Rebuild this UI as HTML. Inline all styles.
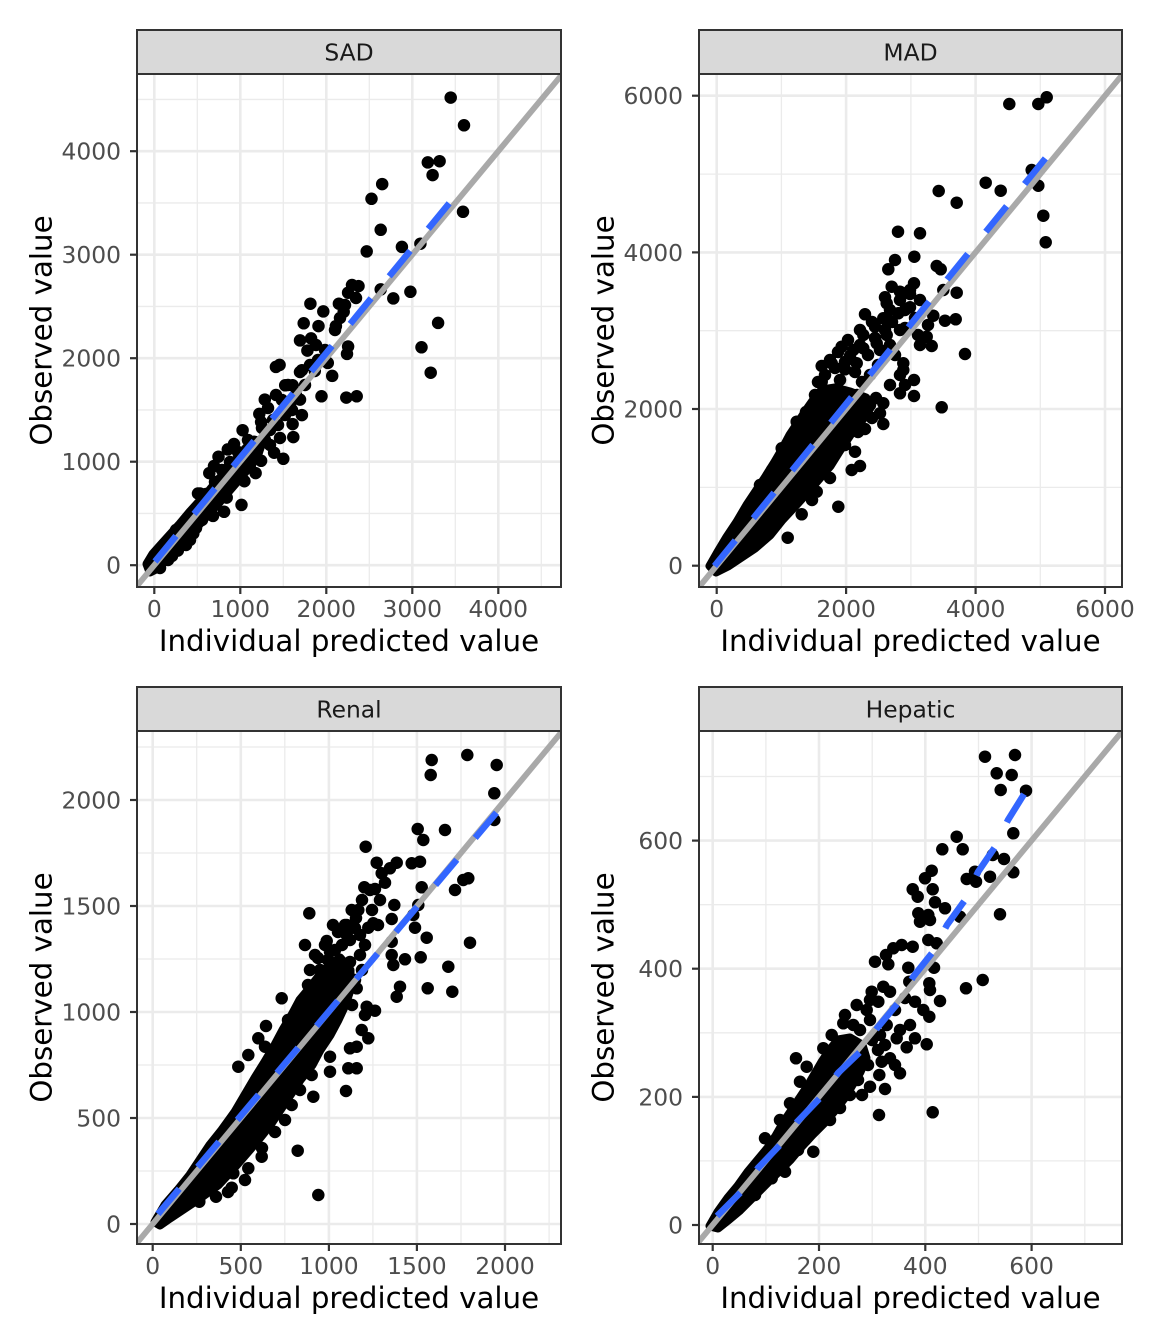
<!DOCTYPE html>
<html><head><meta charset="utf-8"><style>
html,body{margin:0;padding:0;background:#fff;}
svg{display:block;}
text{font-family:"DejaVu Sans","Liberation Sans",sans-serif;}
.tk{font-size:23.4px;fill:#4D4D4D;}
.ttl{font-size:29.3px;fill:#000;}
.st{font-size:23.4px;fill:#1A1A1A;}
.gmaj{stroke:#EBEBEB;stroke-width:2.6;}
.gmin{stroke:#EBEBEB;stroke-width:1.3;}
.pts{fill:none;stroke:#000;stroke-width:12.5;stroke-linecap:round;}
.core{fill:#000;stroke:#000;stroke-width:9;stroke-linejoin:round;}
.idl{stroke:#A9A9A9;stroke-width:5.8;fill:none;}
.blu{stroke:#3366FF;stroke-width:6.5;fill:none;stroke-dasharray:33 28.5;}
.tick{stroke:#333;stroke-width:2.2;}
</style></head><body>
<svg width="1152" height="1344" viewBox="0 0 1152 1344" xmlns="http://www.w3.org/2000/svg">
<defs>
<clipPath id="c1"><rect x="137" y="74" width="424" height="513"/></clipPath>
<clipPath id="c2"><rect x="699" y="74" width="423" height="513"/></clipPath>
<clipPath id="c3"><rect x="137" y="731" width="424" height="513"/></clipPath>
<clipPath id="c4"><rect x="699" y="731" width="423" height="513"/></clipPath>
</defs>
<rect width="1152" height="1344" fill="#fff"/>

<!-- ============ PANEL 1 SAD ============ -->
<g clip-path="url(#c1)">
<rect x="137" y="74" width="424" height="513" fill="#fff"/>
<g class="gmin">
<line x1="197.3" y1="74" x2="197.3" y2="587"/><line x1="283.3" y1="74" x2="283.3" y2="587"/><line x1="369.3" y1="74" x2="369.3" y2="587"/><line x1="455.3" y1="74" x2="455.3" y2="587"/><line x1="541.3" y1="74" x2="541.3" y2="587"/>
<line x1="137" y1="513.45" x2="561" y2="513.45"/><line x1="137" y1="409.95" x2="561" y2="409.95"/><line x1="137" y1="306.45" x2="561" y2="306.45"/><line x1="137" y1="202.95" x2="561" y2="202.95"/><line x1="137" y1="99.45" x2="561" y2="99.45"/>
</g>
<g class="gmaj">
<line x1="154.3" y1="74" x2="154.3" y2="587"/><line x1="240.3" y1="74" x2="240.3" y2="587"/><line x1="326.3" y1="74" x2="326.3" y2="587"/><line x1="412.3" y1="74" x2="412.3" y2="587"/><line x1="498.3" y1="74" x2="498.3" y2="587"/>
<line x1="137" y1="565.2" x2="561" y2="565.2"/><line x1="137" y1="461.7" x2="561" y2="461.7"/><line x1="137" y1="358.2" x2="561" y2="358.2"/><line x1="137" y1="254.7" x2="561" y2="254.7"/><line x1="137" y1="151.2" x2="561" y2="151.2"/>
</g>
<polygon class="core" points="147,564 153,554 161,545 170,535 180,524 190,512 200,501 210,490 220,478 230,467 240,455 248,446 254,440 262,442 258,454 250,466 240,478 228,492 216,506 204,519 192,532 180,545 168,558 158,568 150,572"/>
<path class="pts" d="M450.7 97.6h0M464 125.3h0M427.8 162.4h0M439.6 161.2h0M432.6 175.1h0M382.2 184.1h0M371.5 198.8h0M380.7 229.8h0M463 211.8h0M366.7 251.4h0M401.9 246.9h0M420.4 243.7h0M410.4 291.8h0M393.3 298.4h0M380.7 289.4h0M358.5 286.1h0M348.1 292.7h0M338.9 303.7h0M310.4 303.7h0M323.3 311.4h0M438.1 322.9h0M421.5 347.3h0M430.7 372.7h0M303.7 323.3h0M318.5 326.1h0M335.9 326.1h0M343.7 311.8h0M300 340.4h0M311.1 338.4h0M307.4 350.6h0M348.1 346.5h0M347 353.9h0M279.6 364.9h0M275.9 366.9h0M301.9 370.2h0M314.8 371h0M327.8 362.9h0M332.2 375.9h0M321.5 396.3h0M346.3 397.6h0M356.7 396.3h0M285.2 385.3h0M292.6 385.3h0M300 399.6h0M301.9 415.1h0M292.6 424.1h0M293.3 437.1h0M283.3 458.8h0M274.1 452.7h0M264.8 399.6h0M259.3 413.9h0M261.1 422h0M242.6 430.2h0M227.8 449.4h0M218.5 456.7h0M261.1 460.8h0M255.6 473.1h0M244.4 481.2h0M226.7 497.6h0M241.5 504.9h0M224.1 511.8h0M213 515.9h0M193.3 533.5h0M177.8 550.6h0M200 493.5h0M216.7 485.3h0M209.3 473.1h0M198 493.5h0M250 455h0M258 445h0M265 440h0M270 430h0M278 425h0M285 415h0M290 405h0M282 400h0M296 395h0M305 385h0M300 372h0M310 365h0M292 410h0M273 420h0M262 428h0M248 440h0M238 452h0M230 462h0M222 470h0M215 482h0M288 385h0M318 360h0M325 350h0M316 345h0M335 330h0M340 318h0M345 305h0M356 298h0M352 285h0M270 445h0M280 438h0M276 395h0M268 408h0M250 465h0M235 475h0M205 505h0M160 568h0M172 556h0M186 545h0M168 560h0M196 528h0M182 538h0M188 518h0M176 530h0M164 546h0M206 494h0M214 466h0M234 444h0M202 520h0M190 540h0M220 498h0"/>
<line class="idl" x1="128.5" y1="596.2" x2="584.3" y2="47.7"/>
<line class="blu" x1="155" y1="561.5" x2="463" y2="186.5"/>
</g>
<rect x="137" y="74" width="424" height="513" fill="none" stroke="#333" stroke-width="2"/>
<rect x="137" y="30" width="424" height="44" fill="#D9D9D9" stroke="#333" stroke-width="2"/>
<text class="st" x="349" y="60.5" text-anchor="middle">SAD</text>
<g class="tick">
<line x1="130" y1="565.2" x2="137" y2="565.2"/><line x1="130" y1="461.7" x2="137" y2="461.7"/><line x1="130" y1="358.2" x2="137" y2="358.2"/><line x1="130" y1="254.7" x2="137" y2="254.7"/><line x1="130" y1="151.2" x2="137" y2="151.2"/>
<line x1="154.3" y1="587" x2="154.3" y2="594"/><line x1="240.3" y1="587" x2="240.3" y2="594"/><line x1="326.3" y1="587" x2="326.3" y2="594"/><line x1="412.3" y1="587" x2="412.3" y2="594"/><line x1="498.3" y1="587" x2="498.3" y2="594"/>
</g>
<g class="tk" text-anchor="end">
<text x="121" y="573.7">0</text><text x="121" y="470.2">1000</text><text x="121" y="366.7">2000</text><text x="121" y="263.2">3000</text><text x="121" y="159.7">4000</text>
</g>
<g class="tk" text-anchor="middle">
<text x="154.3" y="617">0</text><text x="240.3" y="617">1000</text><text x="326.3" y="617">2000</text><text x="412.3" y="617">3000</text><text x="498.3" y="617">4000</text>
</g>
<text class="ttl" x="349" y="651" text-anchor="middle">Individual predicted value</text>
<text class="ttl" transform="translate(51.5,330.5) rotate(-90)" text-anchor="middle">Observed value</text>

<!-- ============ PANEL 2 MAD ============ -->
<g clip-path="url(#c2)">
<rect x="699" y="74" width="423" height="513" fill="#fff"/>
<g class="gmin">
<line x1="781.4" y1="74" x2="781.4" y2="587"/><line x1="910.9" y1="74" x2="910.9" y2="587"/><line x1="1040.3" y1="74" x2="1040.3" y2="587"/>
<line x1="699" y1="487.4" x2="1122" y2="487.4"/><line x1="699" y1="330.7" x2="1122" y2="330.7"/><line x1="699" y1="174.1" x2="1122" y2="174.1"/>
</g>
<g class="gmaj">
<line x1="716.7" y1="74" x2="716.7" y2="587"/><line x1="846.1" y1="74" x2="846.1" y2="587"/><line x1="975.6" y1="74" x2="975.6" y2="587"/><line x1="1105" y1="74" x2="1105" y2="587"/>
<line x1="699" y1="565.7" x2="1122" y2="565.7"/><line x1="699" y1="409" x2="1122" y2="409"/><line x1="699" y1="252.4" x2="1122" y2="252.4"/><line x1="699" y1="95.7" x2="1122" y2="95.7"/>
</g>
<polygon class="core" points="710,566 718,552 727,537 737,522 747,505 757,490 765,478 775,462 782,450 790,435 800,420 808,408 815,398 822,390 835,388 850,392 866,398 870,408 862,420 850,435 840,450 830,466 818,480 805,495 795,506 782,520 770,535 755,548 740,558 728,566 716,572"/>
<path class="pts" d="M1009.3 104h0M1038.3 104h0M1046.7 97.3h0M1031.7 170h0M1038.3 185.7h0M1043.3 215.7h0M1045.7 242.3h0M985.7 182.7h0M1000.7 190.7h0M938.7 191h0M956.7 202.7h0M898 231.7h0M920 233.3h0M914.3 256.7h0M895 260h0M888.3 269.3h0M936.7 266h0M940.7 269.3h0M914 283.3h0M891.7 286.7h0M900 291.7h0M910 294h0M885 297.3h0M886.7 303.3h0M943.3 290h0M956.7 292.7h0M910 307.3h0M898.3 313.3h0M865 314.3h0M883.3 318.3h0M933.3 315.7h0M945 320.7h0M955.7 319.3h0M875 326.7h0M900 330h0M886.7 335h0M863.3 335h0M926.7 336.7h0M920 345h0M931.7 346h0M965 354h0M841.7 346.7h0M853.3 350h0M863.3 348.3h0M876.7 343.3h0M821.7 366h0M831.7 363.3h0M845 369.3h0M856.7 363.3h0M903.3 363.3h0M903.3 370h0M914 380h0M914 396h0M900 393.3h0M941.7 407.3h0M821.7 381.7h0M815 395h0M883.3 403.3h0M880 413.3h0M863.3 413.3h0M883.3 424h0M865 429h0M796.7 421.7h0M781.7 448.3h0M855 451.7h0M860 466h0M851.7 470h0M816.7 491.7h0M838.3 506.7h0M801.7 514.3h0M787.7 537.7h0M825 375h0M835 368h0M845 362h0M840 380h0M855 372h0M862 382h0M870 375h0M878 365h0M868 355h0M880 350h0M890 345h0M895 355h0M885 330h0M875 338h0M860 345h0M850 356h0M892 322h0M905 310h0M915 318h0M905 328h0M918 335h0M928 325h0M900 300h0M910 290h0M920 300h0M890 310h0M872 322h0M860 330h0M848 340h0M838 352h0M830 360h0M818 382h0M870 405h0M890 385h0M900 375h0M905 385h0M857 395h0M845 398h0M806 412h0M798 430h0M790 445h0M845 445h0M830 478h0M812 500h0M772 470h0M760 485h0M876 398h0M872 418h0M858 432h0"/>
<line class="idl" x1="684.3" y1="604.9" x2="1169.7" y2="17.4"/>
<line class="blu" x1="714.5" y1="566" x2="1046.5" y2="157"/>
</g>
<rect x="699" y="74" width="423" height="513" fill="none" stroke="#333" stroke-width="2"/>
<rect x="699" y="30" width="423" height="44" fill="#D9D9D9" stroke="#333" stroke-width="2"/>
<text class="st" x="910.5" y="60.5" text-anchor="middle">MAD</text>
<g class="tick">
<line x1="692" y1="565.7" x2="699" y2="565.7"/><line x1="692" y1="409" x2="699" y2="409"/><line x1="692" y1="252.4" x2="699" y2="252.4"/><line x1="692" y1="95.7" x2="699" y2="95.7"/>
<line x1="716.7" y1="587" x2="716.7" y2="594"/><line x1="846.1" y1="587" x2="846.1" y2="594"/><line x1="975.6" y1="587" x2="975.6" y2="594"/><line x1="1105" y1="587" x2="1105" y2="594"/>
</g>
<g class="tk" text-anchor="end">
<text x="683" y="574.2">0</text><text x="683" y="417.5">2000</text><text x="683" y="260.9">4000</text><text x="683" y="104.2">6000</text>
</g>
<g class="tk" text-anchor="middle">
<text x="716.7" y="617">0</text><text x="846.1" y="617">2000</text><text x="975.6" y="617">4000</text><text x="1105" y="617">6000</text>
</g>
<text class="ttl" x="910.5" y="651" text-anchor="middle">Individual predicted value</text>
<text class="ttl" transform="translate(613.5,330.5) rotate(-90)" text-anchor="middle">Observed value</text>

<!-- ============ PANEL 3 Renal ============ -->
<g clip-path="url(#c3)">
<rect x="137" y="731" width="424" height="513" fill="#fff"/>
<g class="gmin">
<line x1="196.7" y1="731" x2="196.7" y2="1244"/><line x1="284.8" y1="731" x2="284.8" y2="1244"/><line x1="372.9" y1="731" x2="372.9" y2="1244"/><line x1="461" y1="731" x2="461" y2="1244"/><line x1="549.1" y1="731" x2="549.1" y2="1244"/>
<line x1="137" y1="1171" x2="561" y2="1171"/><line x1="137" y1="1065" x2="561" y2="1065"/><line x1="137" y1="959" x2="561" y2="959"/><line x1="137" y1="853" x2="561" y2="853"/><line x1="137" y1="747" x2="561" y2="747"/>
</g>
<g class="gmaj">
<line x1="152.7" y1="731" x2="152.7" y2="1244"/><line x1="240.8" y1="731" x2="240.8" y2="1244"/><line x1="328.9" y1="731" x2="328.9" y2="1244"/><line x1="416.9" y1="731" x2="416.9" y2="1244"/><line x1="505" y1="731" x2="505" y2="1244"/>
<line x1="137" y1="1224" x2="561" y2="1224"/><line x1="137" y1="1118" x2="561" y2="1118"/><line x1="137" y1="1012" x2="561" y2="1012"/><line x1="137" y1="906" x2="561" y2="906"/><line x1="137" y1="800" x2="561" y2="800"/>
</g>
<polygon class="core" points="155,1222 165,1205 178,1190 190,1175 200,1160 210,1145 222,1130 235,1112 245,1095 255,1078 265,1062 275,1045 283,1030 292,1015 300,1000 310,988 320,975 330,965 340,958 350,970 350,990 345,1005 338,1020 330,1035 320,1050 312,1065 300,1080 290,1095 280,1110 270,1125 258,1140 245,1155 232,1170 218,1185 200,1198 185,1208 170,1218 160,1225"/>
<path class="pts" d="M431.7 760h0M467.3 755h0M496.7 765h0M430.7 775h0M494.3 793.3h0M494.3 820h0M417.7 829h0M445 830h0M423.3 840h0M365.7 846.7h0M376.7 862.7h0M396.7 862.7h0M390 868.3h0M411.7 863.3h0M420 861.7h0M381.7 873.3h0M385 882.7h0M364.3 887.3h0M375 889h0M421.7 887.3h0M463.3 880h0M468.3 878.3h0M455 890h0M394.3 905h0M418.3 905h0M309.3 913.3h0M351.7 910h0M358.3 910h0M413.3 915h0M391.7 919h0M373.3 923.3h0M346.7 925h0M415 927.7h0M368.3 927.7h0M346.7 935h0M426.7 937.7h0M470 942.7h0M326.7 941h0M305 945h0M391.7 941.7h0M391.7 955h0M405 959.3h0M420.7 957.3h0M393.3 965h0M448.3 966.7h0M315 955h0M330 951.7h0M310 970h0M400 986.7h0M427.7 988.3h0M452.3 991.7h0M396.7 996.7h0M356.7 988.3h0M281.7 998.3h0M366.7 1006.7h0M375 1010.7h0M365 1015h0M266 1026h0M361.7 1030h0M368.3 1038.3h0M258.3 1038.3h0M265 1046.7h0M350 1048.3h0M356.7 1046.7h0M248.3 1055h0M330 1056.7h0M238.3 1066.7h0M348.3 1068.3h0M356.7 1068.3h0M330 1071.7h0M311.7 1075h0M346 1091h0M313.3 1096.7h0M291.7 1105h0M297.7 1150.7h0M261.7 1156.7h0M248.3 1168.3h0M233.3 1173.3h0M231.7 1187.7h0M216 1196.7h0M199.3 1201.7h0M318.3 1195h0M161.7 1220h0M320 970h0M328 960h0M335 950h0M342 945h0M338 932h0M350 940h0M345 925h0M355 928h0M360 935h0M330 980h0M340 975h0M350 962h0M360 955h0M365 945h0M356 918h0M362 900h0M372 910h0M378 925h0M380 900h0M370 890h0M322 990h0M312 1000h0M308 985h0M318 958h0M325 945h0M333 925h0M355 980h0M362 970h0M340 995h0M352 1005h0M298 1010h0M288 1020h0M300 1090h0M285 1120h0M275 1132h0M262 1148h0M245 1180h0M228 1192h0"/>
<line class="idl" x1="126.3" y1="1255.8" x2="593.1" y2="694"/>
<line class="blu" x1="158" y1="1214" x2="497" y2="812"/>
</g>
<rect x="137" y="731" width="424" height="513" fill="none" stroke="#333" stroke-width="2"/>
<rect x="137" y="687" width="424" height="44" fill="#D9D9D9" stroke="#333" stroke-width="2"/>
<text class="st" x="349" y="717.5" text-anchor="middle">Renal</text>
<g class="tick">
<line x1="130" y1="1224" x2="137" y2="1224"/><line x1="130" y1="1118" x2="137" y2="1118"/><line x1="130" y1="1012" x2="137" y2="1012"/><line x1="130" y1="906" x2="137" y2="906"/><line x1="130" y1="800" x2="137" y2="800"/>
<line x1="152.7" y1="1244" x2="152.7" y2="1251"/><line x1="240.8" y1="1244" x2="240.8" y2="1251"/><line x1="328.9" y1="1244" x2="328.9" y2="1251"/><line x1="416.9" y1="1244" x2="416.9" y2="1251"/><line x1="505" y1="1244" x2="505" y2="1251"/>
</g>
<g class="tk" text-anchor="end">
<text x="121" y="1232.5">0</text><text x="121" y="1126.5">500</text><text x="121" y="1020.5">1000</text><text x="121" y="914.5">1500</text><text x="121" y="808.5">2000</text>
</g>
<g class="tk" text-anchor="middle">
<text x="152.7" y="1274">0</text><text x="240.8" y="1274">500</text><text x="328.9" y="1274">1000</text><text x="416.9" y="1274">1500</text><text x="505" y="1274">2000</text>
</g>
<text class="ttl" x="349" y="1308" text-anchor="middle">Individual predicted value</text>
<text class="ttl" transform="translate(51.5,987.5) rotate(-90)" text-anchor="middle">Observed value</text>

<!-- ============ PANEL 4 Hepatic ============ -->
<g clip-path="url(#c4)">
<rect x="699" y="731" width="423" height="513" fill="#fff"/>
<g class="gmin">
<line x1="765.9" y1="731" x2="765.9" y2="1244"/><line x1="872.2" y1="731" x2="872.2" y2="1244"/><line x1="978.5" y1="731" x2="978.5" y2="1244"/><line x1="1084.8" y1="731" x2="1084.8" y2="1244"/>
<line x1="699" y1="1160.9" x2="1122" y2="1160.9"/><line x1="699" y1="1032.8" x2="1122" y2="1032.8"/><line x1="699" y1="904.7" x2="1122" y2="904.7"/><line x1="699" y1="776.5" x2="1122" y2="776.5"/>
</g>
<g class="gmaj">
<line x1="712.7" y1="731" x2="712.7" y2="1244"/><line x1="819" y1="731" x2="819" y2="1244"/><line x1="925.3" y1="731" x2="925.3" y2="1244"/><line x1="1031.6" y1="731" x2="1031.6" y2="1244"/>
<line x1="699" y1="1225" x2="1122" y2="1225"/><line x1="699" y1="1096.9" x2="1122" y2="1096.9"/><line x1="699" y1="968.7" x2="1122" y2="968.7"/><line x1="699" y1="840.6" x2="1122" y2="840.6"/>
</g>
<polygon class="core" points="710,1226 718,1212 728,1198 738,1186 748,1172 758,1160 768,1148 776,1136 784,1122 792,1110 800,1098 808,1086 815,1074 822,1062 830,1050 838,1040 850,1038 862,1045 866,1058 860,1072 852,1085 845,1097 835,1110 825,1122 812,1135 800,1148 790,1160 778,1172 765,1185 752,1198 740,1210 728,1220 718,1228"/>
<path class="pts" d="M985 756.7h0M1015 755h0M996.7 773.3h0M1011.7 775h0M1000.7 790h0M1026 790.7h0M1013.3 833.3h0M956.7 836.7h0M942.3 849.3h0M962.7 849.3h0M992.7 855h0M1004 859h0M1013.3 872.3h0M990 876.7h0M975 871.7h0M966.7 879h0M976 881.7h0M931.7 870.7h0M925 878.3h0M912.7 889.3h0M932.7 889.3h0M917.7 896.7h0M935 902.3h0M945 908.3h0M1000 914.3h0M918.3 913.3h0M928.3 915h0M920 921.7h0M930 920h0M960 916.7h0M928.3 940h0M936.7 943.3h0M901.7 945h0M912.7 946.7h0M893.3 948.3h0M886 955h0M875 961.7h0M888.3 964.3h0M908.3 967.7h0M934 967.7h0M982.7 980h0M966 988.3h0M940 1001h0M929.3 983.3h0M930 990h0M909.3 981.7h0M883.3 986.7h0M890 991.7h0M871.7 991.7h0M878.3 1001.7h0M856.7 1005h0M866.7 1010h0M915 1001.7h0M923.3 1010h0M929.3 1016.7h0M910 1025h0M900 1030h0M886.7 1025h0M896.7 1038.3h0M915 1038.3h0M926.7 1044.3h0M906.7 1047.3h0M885 1045h0M843.3 1023.3h0M853.3 1025h0M831.7 1035h0M823.3 1048.3h0M836.7 1050h0M890 1058.3h0M881.7 1061.7h0M895 1065h0M900 1073.3h0M879.3 1075h0M885 1089h0M870 1086.7h0M796 1058.3h0M806.7 1066.7h0M823.3 1068.3h0M800 1081.7h0M790 1103.3h0M879 1115h0M932.7 1112.3h0M813.3 1151.7h0M765 1138.3h0M785 1171.7h0M771.7 1178.3h0M755 1195h0M870 1020h0M860 1030h0M872 1040h0M878 1050h0M868 1065h0M858 1080h0M850 1095h0M840 1108h0M830 1120h0M845 1015h0M880 1035h0M895 1010h0M905 998h0M870 1000h0M862 1095h0M798 1150h0M805 1140h0M780 1120h0"/>
<line class="idl" x1="686.1" y1="1257" x2="1137.9" y2="712.4"/>
<path class="blu" d="M717 1216L742 1191L758 1168L780 1145L797 1122L820 1098L838 1073L860 1052L878 1027L898 1003L913 977L932 953L947 925L965 900L978 872L995 847L1008 820L1026 791"/>
</g>
<rect x="699" y="731" width="423" height="513" fill="none" stroke="#333" stroke-width="2"/>
<rect x="699" y="687" width="423" height="44" fill="#D9D9D9" stroke="#333" stroke-width="2"/>
<text class="st" x="910.5" y="717.5" text-anchor="middle">Hepatic</text>
<g class="tick">
<line x1="692" y1="1225" x2="699" y2="1225"/><line x1="692" y1="1096.9" x2="699" y2="1096.9"/><line x1="692" y1="968.7" x2="699" y2="968.7"/><line x1="692" y1="840.6" x2="699" y2="840.6"/>
<line x1="712.7" y1="1244" x2="712.7" y2="1251"/><line x1="819" y1="1244" x2="819" y2="1251"/><line x1="925.3" y1="1244" x2="925.3" y2="1251"/><line x1="1031.6" y1="1244" x2="1031.6" y2="1251"/>
</g>
<g class="tk" text-anchor="end">
<text x="683" y="1233.5">0</text><text x="683" y="1105.4">200</text><text x="683" y="977.2">400</text><text x="683" y="849.1">600</text>
</g>
<g class="tk" text-anchor="middle">
<text x="712.7" y="1274">0</text><text x="819" y="1274">200</text><text x="925.3" y="1274">400</text><text x="1031.6" y="1274">600</text>
</g>
<text class="ttl" x="910.5" y="1308" text-anchor="middle">Individual predicted value</text>
<text class="ttl" transform="translate(613.5,987.5) rotate(-90)" text-anchor="middle">Observed value</text>
</svg>
</body></html>
